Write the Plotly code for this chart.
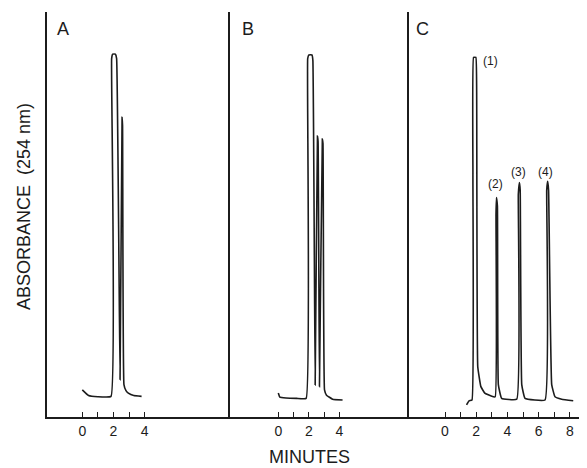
import plotly.graph_objects as go

# ---- data (minutes, absorbance in arbitrary units; 0 = axis, 100 = panel top) ----
t_a = [0, 0.4, 1.0, 1.84, 1.88, 1.95, 2.12, 2.2, 2.42, 2.55, 2.58, 2.67, 2.8, 2.95, 3.3, 3.8]
y_a = [6.7, 5.3, 5.0, 5.1, 88.5, 89.6, 89.6, 88.5, 9.2, 74, 72, 8, 6.5, 5.9, 5.3, 5.1]

t_b = [0, 0.1, 0.5, 1.2, 1.82, 1.92, 2.0, 2.2, 2.26, 2.41, 2.56, 2.6, 2.69, 2.88, 2.92, 3.02, 3.15, 3.55, 4.2]
y_b = [5.9, 4.9, 4.7, 4.6, 4.6, 88.5, 89.4, 89.4, 88, 7.9, 69.4, 68, 7.5, 68.6, 67.5, 6.7, 5.4, 4.4, 4.2]

t_c = [1.38, 1.54, 1.73, 1.79, 1.83, 1.98, 2.03, 2.1, 2.3, 2.55, 3.0, 3.22, 3.27, 3.3, 3.36, 3.42, 3.63, 4.6,
       4.7, 4.77, 4.82, 4.92, 5.13, 6.41, 6.52, 6.58, 6.64, 6.84, 7.05, 7.48, 8.22]
y_c = [3.0, 4.0, 4.2, 60, 88.8, 88.8, 80, 12.4, 7.5, 5.9, 5.1, 5.0, 50, 54.2, 52, 8, 4.6, 4.4,
       55, 57.9, 56, 8, 4.6, 4.2, 56, 58.2, 56, 8, 5.0, 4.4, 4.0]

peak_labels = ["(1)", "(2)", "(3)", "(4)"]
peak_label_t = [2.9, 3.25, 4.7, 6.45]
peak_label_y = [88.0, 57.5, 60.5, 60.5]

panel_names = ["A", "B", "C"]
ticks_ab = [0, 1, 2, 3, 4]
ticks_c = [0, 1, 2, 3, 4, 5, 6, 7, 8]

# page is shown with an 8px body margin, so the figure is sized/placed to compensate
OFF = 8
PAGE_W, PAGE_H = 587, 468
W, H = PAGE_W - OFF, PAGE_H - OFF
INK = "#1c1c1c"
FONT = "Liberation Sans"


def xp(px):
    return (px - OFF) / W


def yp(py):
    return (PAGE_H - py) / H


# pixel layout of the three panels (page coordinates)
x_left = [47, 230, 409]
x_right = [230, 409, 587]
t_zero_px = [82.3, 278.3, 445]
px_per_min = [15.6, 15.3, 15.6]
y_bot, y_top = 417, 12

fig = go.Figure()
series = [(t_a, y_a), (t_b, y_b), (t_c, y_c)]
for i, (tt, yy) in enumerate(series):
    sfx = "" if i == 0 else str(i + 1)
    fig.add_trace(go.Scatter(x=tt, y=yy, mode="lines",
                             line=dict(color=INK, width=1.6, shape="spline", smoothing=0.3),
                             xaxis="x" + sfx, yaxis="y" + sfx, showlegend=False, hoverinfo="skip"))

layout = dict(width=W, height=H, margin=dict(l=0, r=0, t=0, b=0),
              paper_bgcolor="white", plot_bgcolor="white",
              font=dict(family=FONT, color=INK))
ydom = [yp(y_bot), yp(y_top)]
for i in range(3):
    sfx = "" if i == 0 else str(i + 1)
    tv = ticks_c if i == 2 else ticks_ab
    tt = [str(v) if v % 2 == 0 else "" for v in tv]
    lo = -(t_zero_px[i] - x_left[i]) / px_per_min[i]
    hi = (x_right[i] - t_zero_px[i]) / px_per_min[i]
    layout["xaxis" + sfx] = dict(domain=[xp(x_left[i]), min(1.0, xp(x_right[i]))], range=[lo, hi],
                                 anchor="y" + sfx, showgrid=False, zeroline=False,
                                 showline=True, linecolor=INK, linewidth=1.6,
                                 ticks="inside", ticklen=5, tickwidth=1, tickcolor=INK,
                                 tickvals=tv, ticktext=tt, tickfont=dict(size=14, family=FONT, color=INK))
    layout["yaxis" + sfx] = dict(domain=ydom, range=[0, 100], anchor="x" + sfx,
                                 showgrid=False, zeroline=False, showline=True,
                                 linecolor=INK, linewidth=1.6, showticklabels=False, ticks="")
fig.update_layout(**layout)

ann = []
letter_px = [63.5, 248, 422.5]
for i, name in enumerate(panel_names):
    ann.append(dict(text=name, x=xp(letter_px[i]), y=yp(28.5), xref="paper", yref="paper",
                    xanchor="center", yanchor="middle",
                    showarrow=False, font=dict(size=18, family=FONT, color=INK)))
for lab, lt, ly in zip(peak_labels, peak_label_t, peak_label_y):
    ann.append(dict(text=lab, x=lt, y=ly, xref="x3", yref="y3", showarrow=False,
                    xanchor="center", yanchor="middle",
                    font=dict(size=12, family=FONT, color=INK)))
ann.append(dict(text="ABSORBANCE  (254 nm)", x=xp(24), y=yp(207), xref="paper", yref="paper",
                xanchor="center", yanchor="middle",
                textangle=-90, showarrow=False, font=dict(size=18, family=FONT, color=INK)))
ann.append(dict(text="MINUTES", x=xp(309), y=yp(457), xref="paper", yref="paper",
                xanchor="center", yanchor="middle",
                showarrow=False, font=dict(size=18, family=FONT, color=INK)))
fig.update_layout(annotations=ann)

fig.write_html("out.html")
